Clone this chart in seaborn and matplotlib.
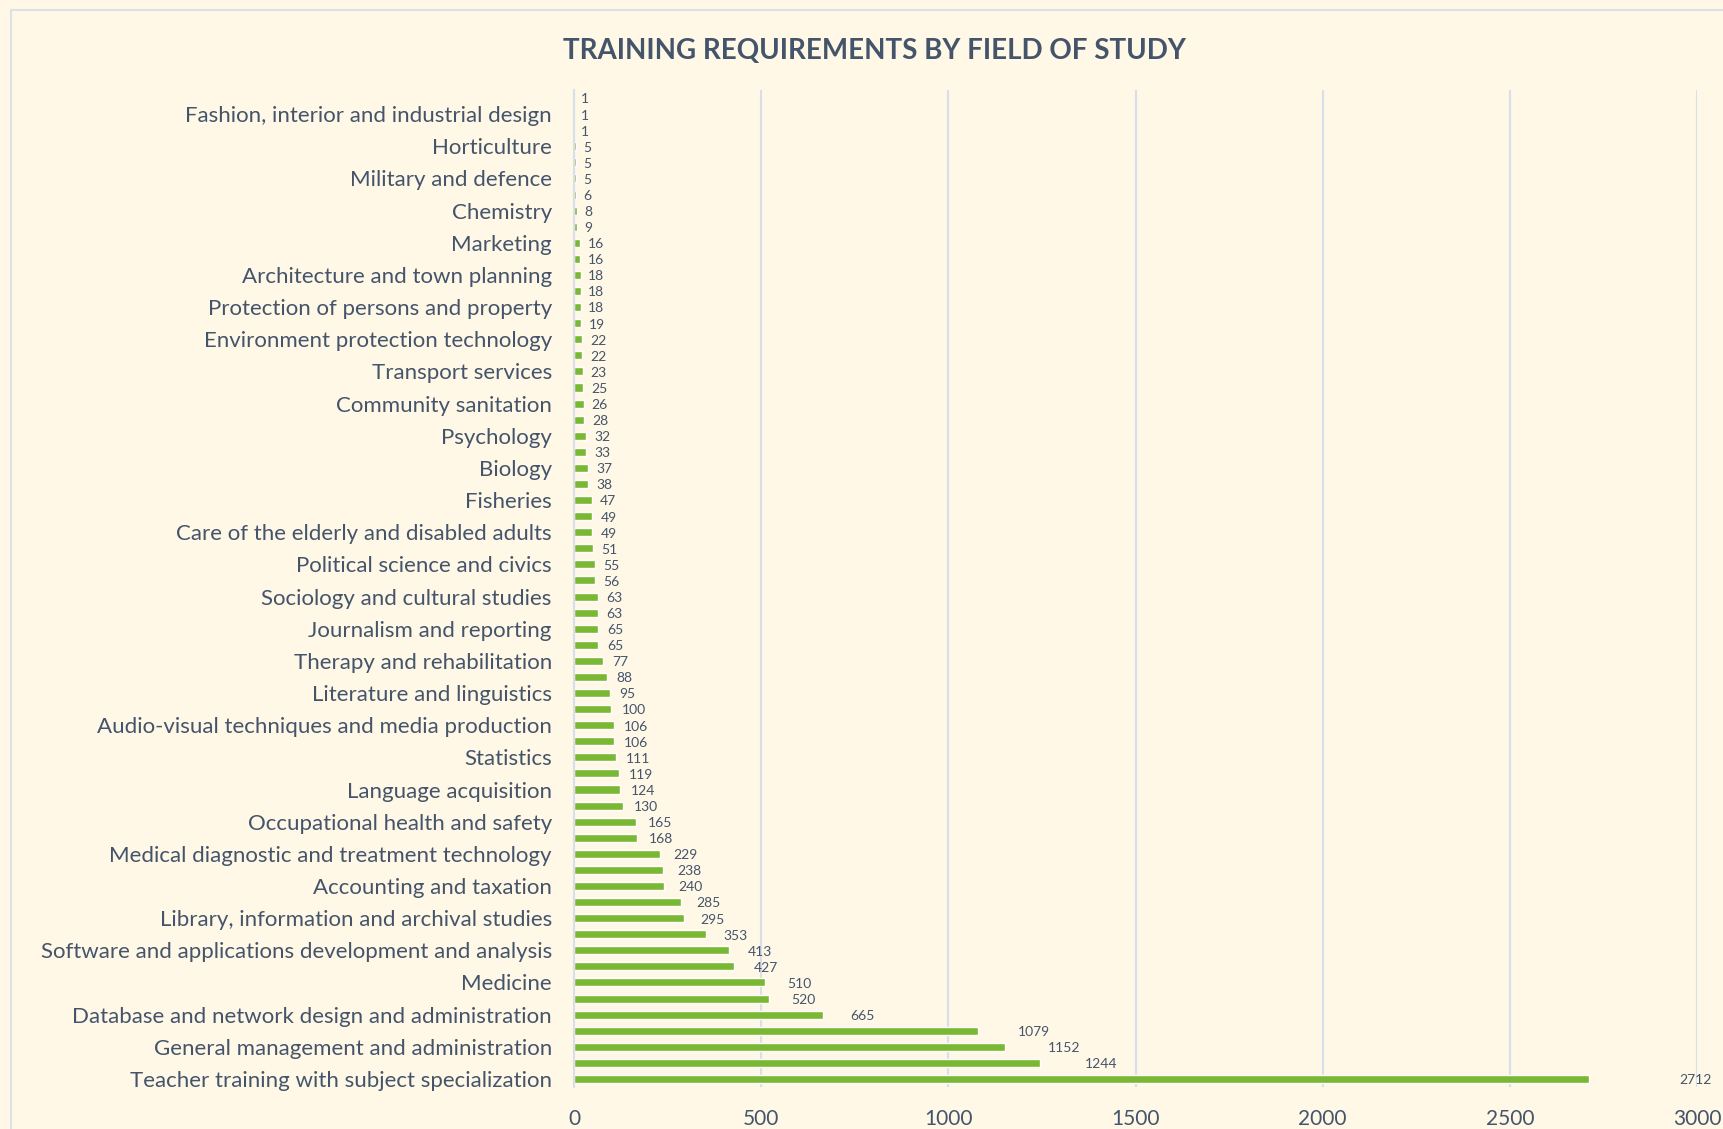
import matplotlib
matplotlib.use('Agg')
import matplotlib.pyplot as plt
import seaborn as sns
import pandas as pd
from matplotlib.patches import Rectangle
from matplotlib.ticker import FixedLocator

# fields listed top -> bottom, as in the chart
FIELDS = [
    'Fine arts',
    'Fashion, interior and industrial design',
    'Mining and extraction',
    'Horticulture',
    'Religion and theology',
    'Military and defence',
    'Textiles, clothes and footwear',
    'Chemistry',
    'Hair and beauty services',
    'Marketing',
    'Philosophy and ethics',
    'Architecture and town planning',
    'Music and performing arts',
    'Protection of persons and property',
    'Food processing',
    'Environment protection technology',
    'Building and civil engineering',
    'Transport services',
    'Veterinary',
    'Community sanitation',
    'Child care and youth services',
    'Psychology',
    'Earth sciences',
    'Biology',
    'Forestry',
    'Fisheries',
    'Agriculture',
    'Care of the elderly and disabled adults',
    'Physics',
    'Political science and civics',
    'Dental studies',
    'Sociology and cultural studies',
    'History and archaeology',
    'Journalism and reporting',
    'Electricity and energy',
    'Therapy and rehabilitation',
    'Travel, tourism and leisure',
    'Literature and linguistics',
    'Mechanics and metal trades',
    'Audio-visual techniques and media production',
    'Pharmacy',
    'Statistics',
    'Social work and counselling',
    'Language acquisition',
    'Civil engineering',
    'Occupational health and safety',
    'Electronics and automation',
    'Medical diagnostic and treatment technology',
    'Mathematics',
    'Accounting and taxation',
    'Economics',
    'Library, information and archival studies',
    'Law',
    'Software and applications development and analysis',
    'Finance, banking and insurance',
    'Medicine',
    'Nursing and midwifery',
    'Database and network design and administration',
    'Engineering and engineering trades',
    'General management and administration',
    'Business and administration',
    'Teacher training with subject specialization',
]

REQUIREMENTS = [
    1, 1, 1, 5, 5, 5, 6, 8, 9, 16, 16, 18, 18, 18, 19, 22, 22, 23, 25, 26,
    28, 32, 33, 37, 38, 47, 49, 49, 51, 55, 56, 63, 63, 65, 65, 77, 88, 95,
    100, 106, 106, 111, 119, 124, 130, 165, 168, 229, 238, 240, 285, 295,
    353, 413, 427, 510, 520, 665, 1079, 1152, 1244, 2712,
]

# only every other category gets a label on the axis
LABELLED = [
    'Fashion, interior and industrial design', 'Horticulture',
    'Military and defence', 'Chemistry', 'Marketing',
    'Architecture and town planning', 'Protection of persons and property',
    'Environment protection technology', 'Transport services',
    'Community sanitation', 'Psychology', 'Biology', 'Fisheries',
    'Care of the elderly and disabled adults', 'Political science and civics',
    'Sociology and cultural studies', 'Journalism and reporting',
    'Therapy and rehabilitation', 'Literature and linguistics',
    'Audio-visual techniques and media production', 'Statistics',
    'Language acquisition', 'Occupational health and safety',
    'Medical diagnostic and treatment technology', 'Accounting and taxation',
    'Library, information and archival studies',
    'Software and applications development and analysis', 'Medicine',
    'Database and network design and administration',
    'General management and administration',
    'Teacher training with subject specialization',
]

X_TICKS = [0, 500, 1000, 1500, 2000, 2500, 3000]

BG = '#FFF8E7'
TEXT = '#44546A'
BAR = '#7AB833'
GRID = '#D9DFEA'
FONT = ['Lato', 'DejaVu Sans']


def plot_chart(save_path='out.png'):
    df = pd.DataFrame({'field': FIELDS, 'count': REQUIREMENTS})

    sns.set_style('white')
    plt.rcParams['font.family'] = FONT

    fig = plt.figure(figsize=(17.24, 11.29), dpi=100, facecolor=BG)
    ax = fig.add_axes([574 / 1724, 42 / 1129, 1123 / 1724, 997 / 1129])
    ax.set_facecolor(BG)

    sns.barplot(data=df, x='count', y='field', orient='h', color=BAR,
                width=0.5, saturation=1, ax=ax, order=FIELDS)

    # value labels, pushed out a bit further for the long bars
    for patch, val in zip(ax.patches, REQUIREMENTS):
        yc = patch.get_y() + patch.get_height() / 2
        ax.annotate(str(val), xy=(val, yc), xytext=(5 + val * 0.022, -1),
                    textcoords='offset points', ha='left', va='center',
                    fontsize=10, color=TEXT)

    ax.set_xlim(0, 3000)
    ax.xaxis.set_major_locator(FixedLocator(X_TICKS))
    ax.set_xticklabels([str(t) for t in X_TICKS])
    ax.grid(axis='x', color=GRID, linewidth=1.5)
    ax.set_axisbelow(True)

    ax.set_yticks(range(len(FIELDS)))
    ax.set_yticklabels([f if f in LABELLED else '' for f in FIELDS])
    ax.yaxis.set_minor_locator(FixedLocator([i - 0.5 for i in range(len(FIELDS) + 1)]))
    ax.tick_params(axis='y', which='major', length=0, pad=16, labelsize=16, labelcolor=TEXT)
    ax.tick_params(axis='y', which='minor', length=6, width=1.2, color=GRID)
    ax.tick_params(axis='x', length=0, pad=16, labelsize=15, labelcolor=TEXT)
    ax.set_xlabel('')
    ax.set_ylabel('')

    for side in ['top', 'right', 'bottom']:
        ax.spines[side].set_visible(False)
    ax.spines['left'].set_color(GRID)
    ax.spines['left'].set_linewidth(1.5)

    fig.text(874 / 1724, 1 - 51 / 1129, 'TRAINING REQUIREMENTS BY FIELD OF STUDY',
             ha='center', va='center', fontsize=20, fontweight='bold', color=TEXT)

    # chart area border, cut off at the right and bottom like the original
    fig.patches.append(Rectangle((11 / 1724, -0.1), 1.2, 1.1 - 10 / 1129,
                                 transform=fig.transFigure, fill=False,
                                 edgecolor='#DCE0E8', linewidth=1.5))

    plt.savefig(save_path, dpi=100, facecolor=BG)
    plt.close()
    print(f'[Saved] {save_path}')


def main():
    plot_chart('out.png')


if __name__ == '__main__':
    main()
